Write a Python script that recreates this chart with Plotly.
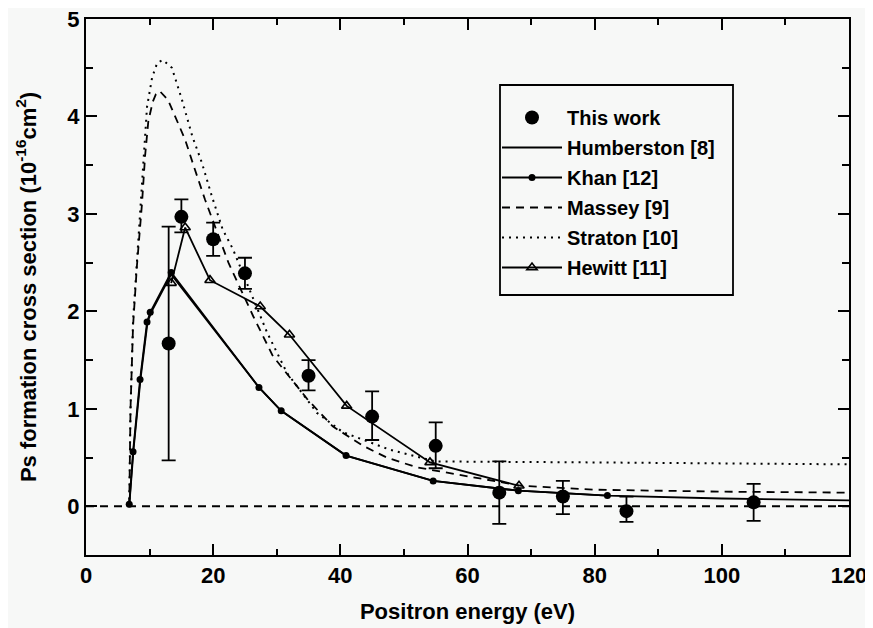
import plotly.graph_objects as go

# ---- data ----
work_x = [13, 15, 20, 25, 35, 45, 55, 65, 75, 85, 105]
work_y = [1.67, 2.97, 2.74, 2.39, 1.34, 0.92, 0.62, 0.14, 0.10, -0.05, 0.04]
work_hi = [2.87, 3.15, 2.91, 2.55, 1.50, 1.18, 0.86, 0.46, 0.26, 0.10, 0.23]
work_lo = [0.47, 2.81, 2.57, 2.23, 1.19, 0.68, 0.39, -0.18, -0.08, -0.16, -0.15]

humb_x = [6.8, 7.5, 8.6, 9.7, 10.5, 13.4, 27.2, 30.7, 40.9, 54.6, 68, 82, 100, 120]
humb_y = [0.0, 0.6, 1.32, 1.9, 2.02, 2.38, 1.22, 0.98, 0.52, 0.26, 0.16, 0.11, 0.08, 0.06]

khan_x = [6.8, 7.4, 8.5, 9.6, 10.1, 13.4, 27.2, 30.7, 40.9, 54.6, 68, 82]
khan_y = [0.02, 0.56, 1.30, 1.89, 1.99, 2.40, 1.22, 0.98, 0.52, 0.26, 0.16, 0.11]

massey_x = [6.8, 6.9, 7.0, 7.4, 8.0, 8.8, 9.3, 9.8, 10.5, 11.0, 11.6, 12.9, 14.0, 15.6,
            17.1, 18.7, 20.3, 22.4, 26.3, 29.4, 34.8, 38.8, 43.6, 47.3, 52, 58, 68.5, 80, 100, 120]
massey_y = [0.0, 0.5, 1.0, 1.85, 2.46, 3.1, 3.6, 3.95, 4.15, 4.23, 4.26, 4.17, 4.0, 3.76,
            3.46, 3.15, 2.87, 2.5, 1.95, 1.54, 1.10, 0.82, 0.62, 0.50, 0.40, 0.33, 0.21, 0.17, 0.15, 0.14]

straton_x = [6.8, 6.9, 7.0, 7.4, 8.0, 8.8, 9.3, 9.6, 10.4, 11.2, 12.1, 13.5, 15.1, 16.7,
             18.2, 19.8, 21.5, 23.1, 28.5, 31.6, 36.3, 40.4, 47.8, 55, 80, 120]
straton_y = [0.0, 0.5, 1.0, 1.9, 2.5, 3.2, 3.7, 4.1, 4.4, 4.55, 4.58, 4.5, 4.17, 3.8,
             3.53, 3.18, 2.84, 2.64, 1.78, 1.37, 0.96, 0.76, 0.58, 0.46, 0.45, 0.43]

hewitt_x = [13.4, 15.6, 19.5, 27.4, 32.0, 41.0, 54.1, 68.1]
hewitt_y = [2.29, 2.86, 2.32, 2.05, 1.76, 1.03, 0.45, 0.21]

x_ticks = [0, 20, 40, 60, 80, 100, 120]
y_ticks = [0, 1, 2, 3, 4, 5]

BG = "#f7f8f7"
FONT = "Liberation Sans, Arial, sans-serif"

# page body has an 8px margin; figure is sized to fill the rest of the window
OFF = 8
W, H = 865, 620
ML, MR, MT, MB = 78, 24, 11, 73
plot_w = W - ML - MR
plot_h = H - MT - MB


def px_x(p):  # page pixel -> paper x
    return (p - OFF - ML) / plot_w


def px_y(p):  # page pixel -> paper y
    return (OFF + MT + plot_h - p) / plot_h


fig = go.Figure()

fig.add_trace(go.Scatter(
    x=humb_x, y=humb_y, mode="lines", name="Humberston [8]",
    line=dict(color="black", width=1.8), legendrank=2, legendgroup="b"))
fig.add_trace(go.Scatter(
    x=khan_x, y=khan_y, mode="lines+markers", name="Khan [12]",
    line=dict(color="black", width=1.8),
    marker=dict(symbol="circle", size=7, color="black"), legendrank=3, legendgroup="c"))
fig.add_trace(go.Scatter(
    x=massey_x, y=massey_y, mode="lines", name="Massey [9]",
    line=dict(color="black", width=1.8, dash="8px,6px"), legendrank=4, legendgroup="d"))
fig.add_trace(go.Scatter(
    x=straton_x, y=straton_y, mode="lines", name="Straton [10]",
    line=dict(color="black", width=2, dash="2px,5px"), legendrank=5, legendgroup="e"))
fig.add_trace(go.Scatter(
    x=hewitt_x, y=hewitt_y, mode="lines+markers", name="Hewitt [11]",
    line=dict(color="black", width=1.8),
    marker=dict(symbol="triangle-up-open", size=9, color="black", line=dict(width=1.6)),
    legendrank=6, legendgroup="f"))

err_plus = [h - y for h, y in zip(work_hi, work_y)]
err_minus = [y - l for l, y in zip(work_lo, work_y)]
fig.add_trace(go.Scatter(
    x=work_x, y=work_y, mode="markers", name="This work",
    marker=dict(symbol="circle", size=14, color="black"),
    error_y=dict(type="data", symmetric=False, array=err_plus, arrayminus=err_minus,
                 color="black", thickness=1.8, width=7),
    legendrank=1, legendgroup="a"))

fig.add_hline(y=0, line=dict(color="black", width=2, dash="8px,6px"), layer="below")

# legend frame
fig.add_shape(type="rect", xref="paper", yref="paper",
              x0=px_x(500), x1=px_x(733), y0=px_y(295), y1=px_y(85),
              line=dict(color="black", width=1.8), fillcolor=BG, layer="above")

axis_common = dict(
    showline=True, linecolor="black", linewidth=2, mirror="ticks",
    ticks="inside", ticklen=11, tickwidth=2, tickcolor="black",
    showgrid=False, zeroline=False, automargin=False, ticklabeloverflow="allow",
    tickfont=dict(family=FONT, size=22, color="black", weight="bold"),
)

fig.update_xaxes(
    range=[0, 120], tickvals=x_ticks, ticktext=[str(v) for v in x_ticks],
    minor=dict(dtick=10, tick0=0, ticks="inside", ticklen=6, tickwidth=1.5, tickcolor="black"),
    title=dict(text="Positron energy (eV)", font=dict(family=FONT, size=22, color="black", weight="bold"),
               standoff=16),
    **axis_common)
fig.update_yaxes(
    range=[-0.5, 5], tickvals=y_ticks, ticktext=[str(v) for v in y_ticks],
    minor=dict(dtick=0.5, tick0=0, ticks="inside", ticklen=7, tickwidth=1.5, tickcolor="black"),
    title=dict(text="Ps formation cross section (10<sup>-16</sup>cm<sup>2</sup>)",
               font=dict(family=FONT, size=22, color="black", weight="bold"), standoff=25),
    **axis_common)

fig.update_layout(
    width=W, height=H,
    margin=dict(l=ML, r=MR, t=MT, b=MB, autoexpand=False),
    paper_bgcolor=BG, plot_bgcolor=BG,
    showlegend=True,
    legend=dict(
        x=px_x(497), y=px_y(98), xanchor="left", yanchor="top",
        bgcolor="rgba(0,0,0,0)", borderwidth=0,
        font=dict(family=FONT, size=20, color="black", weight="bold"),
        itemwidth=60, tracegroupgap=1,
    ),
)

fig.write_html("out.html")
